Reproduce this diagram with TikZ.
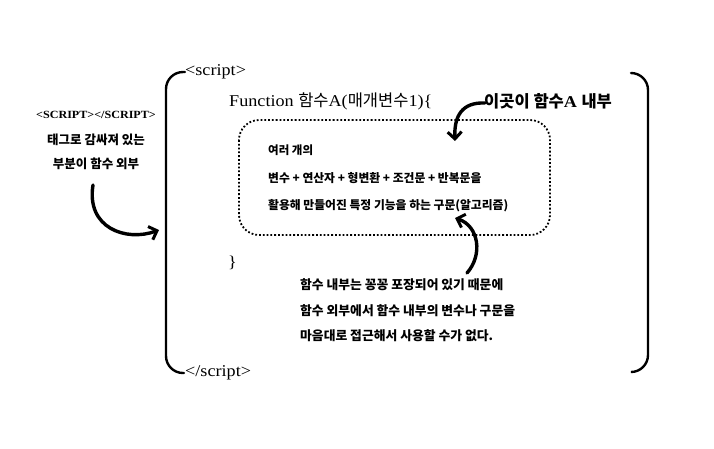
\documentclass[tikz,border=0pt]{standalone}
\usepackage{fontspec}
\setmainfont[FakeStretch=1.1]{Liberation Serif}
\newfontfamily\kr{Noto Sans CJK KR}
\usetikzlibrary{arrows.meta}
\tikzset{
  lbl/.style={inner sep=0pt, anchor=west},
  bracket/.style={line width=2.4pt, rounded corners=17pt, line cap=round},
  curvearrow/.style={line width=3.4pt, line cap=round, -{Straight Barb[length=7pt,width=14pt,line width=3pt]}},
  dotbox/.style={draw, line width=1.8pt, dotted, rounded corners=20pt}
}
\begin{document}
\begin{tikzpicture}[x=1pt,y=-1pt]
\useasboundingbox (0,0) rectangle (714,448);
% brackets
\draw[bracket] (185,72) -- (166,72) -- (166,373) -- (184,373);
\draw[bracket] (631,73) -- (648,73) -- (648,372) -- (632,372);
% tags
\node[lbl, font=\fontsize{16.5}{19}\selectfont] (open) at (185,72) {<script>};
\node[lbl, font=\fontsize{16.5}{19}\selectfont] (close) at (185,373) {</script>};
% function line
\node[lbl, font=\fontsize{16.5}{19}\selectfont] (func) at (229,101) {Function {\kr 함수}A({\kr 매개변수}1)\{};
\node[lbl, font=\fontsize{16.5}{19}\selectfont] (inside) at (484,101) {{\kr\bfseries 이곳이 함수}\textbf{A} {\kr\bfseries 내부}};
% dotted box
\draw[dotbox] (239,120) rectangle (550,235);
\node[lbl, font=\kr\bfseries\fontsize{11.5}{13}\selectfont] (l1) at (268,150) {여러 개의};
\node[lbl, font=\kr\bfseries\fontsize{11.8}{13}\selectfont] (l2) at (268,178) {변수 + 연산자 + 형변환 + 조건문 + 반복문을};
\node[lbl, font=\kr\bfseries\fontsize{11.8}{13}\selectfont] (l3) at (268,206) {활용해 만들어진 특정 기능을 하는 구문(알고리즘)};
\node[lbl, font=\fontsize{16.5}{19}\selectfont] (brace) at (228,263) {\}};
% bottom text
\node[lbl, font=\kr\bfseries\fontsize{12.8}{15}\selectfont] (b1) at (300,285) {함수 내부는 꽁꽁 포장되어 있기 때문에};
\node[lbl, font=\kr\bfseries\fontsize{12.8}{15}\selectfont] (b2) at (300,311) {함수 외부에서 함수 내부의 변수나 구문을};
\node[lbl, font=\kr\bfseries\fontsize{12.8}{15}\selectfont] (b3) at (300,336) {마음대로 접근해서 사용할 수가 없다.};
% left text
\node[inner sep=0pt, font=\bfseries\fontsize{11}{14}\selectfont] (s1) at (96,115) {<SCRIPT></SCRIPT>};
\node[inner sep=0pt, font=\kr\bfseries\fontsize{12.5}{15}\selectfont] (s2) at (96,140) {태그로 감싸져 있는};
\node[inner sep=0pt, font=\kr\bfseries\fontsize{12.5}{15}\selectfont] (s3) at (96,164) {부분이 함수 외부};
% arrows
\coordinate (t1) at (485,103);
\coordinate (h1) at (455,141);
\draw[curvearrow] (t1) .. controls (462,102) and (454,116) .. (h1);
\coordinate (t2) at (467,273);
\coordinate (h2) at (455,218);
\draw[curvearrow] (t2) .. controls (483,255) and (479,226) .. (h2);
\coordinate (t3) at (93,185);
\coordinate (h3) at (159,230);
\draw[curvearrow] (t3) .. controls (86,228) and (126,242) .. (h3);
\end{tikzpicture}
\end{document}
